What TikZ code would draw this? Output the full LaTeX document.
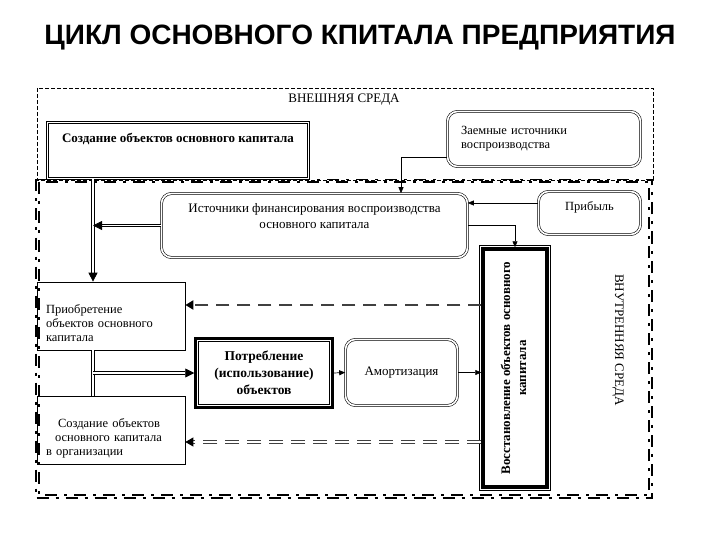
\documentclass[tikz,border=0pt]{standalone}
\usepackage{fontspec}
\setmainfont{Liberation Serif}
\newfontfamily\titlefont{Liberation Sans}
\usetikzlibrary{arrows.meta}

\begin{document}
\begin{tikzpicture}[x=1pt,y=-1pt,
	txt/.style={font=\fontsize{13}{16}\selectfont},
	stxt/.style={font=\fontsize{12.5}{14}\selectfont},
	btxt/.style={font=\fontsize{13}{16}\selectfont\bfseries},
	plainbox/.style={stxt,draw,line width=0.7pt,inner sep=0pt},
	dblbox/.style={txt,draw,double,double distance=1.6pt,line width=0.6pt,inner sep=0pt},
	roundbox/.style={dblbox,rounded corners=10pt},
	thinarrow/.style={line width=0.7pt,-{Triangle[length=6pt,width=5pt]}},
	dblline/.style={double,double distance=1.8pt,line width=0.8pt},
	dblarrow/.style={dblline,-{Triangle[length=9pt,width=9pt]}},
	border/.style={line width=1.1pt,dash pattern=on 12pt off 7pt on 3pt off 7pt},
	backarrow/.style={black!75,line width=2.8pt,dash pattern=on 13pt off 8pt,-{Triangle[length=8pt,width=9pt,black]}},
	backarrowdbl/.style={black!75,double,double distance=1.4pt,line width=1pt,dash pattern=on 14pt off 8pt,-{Triangle[length=8pt,width=9pt,black]}}]
	\useasboundingbox (0,0) rectangle (720,540);
	% title
	\node[font=\titlefont\bfseries\fontsize{28}{30}\selectfont] (title) at (360,38) {ЦИКЛ ОСНОВНОГО КПИТАЛА ПРЕДПРИЯТИЯ};
	% environments
	\draw[line width=0.8pt,dash pattern=on 4pt off 2pt] (37,88) rectangle (653,180);
	\draw[border] (36,179.5) rectangle (652,498);
	\draw[border] (39,182) rectangle (649,495);
	\node[txt] (ext) at (344,100) {ВНЕШНЯЯ СРЕДА};
	\node[txt,rotate=-90] (int) at (618,340) {ВНУТРЕННЯЯ СРЕДА};
	% boxes
	\node[dblbox,btxt,minimum width=261pt,minimum height=56pt,text depth=26pt] (sozd) at (178,150.5) {Создание объектов основного капитала};
	\node[roundbox,stxt,minimum width=193pt,minimum height=55pt,text width=166pt,align=left] (zaem) at (544,139) {Заемные источники\\воспроизводства};
	\node[roundbox,minimum width=306pt,minimum height=64pt,align=center,text depth=19pt] (ist) at (314.5,225.5) {Источники финансирования воспроизводства\\основного капитала};
	\node[roundbox,stxt,minimum width=102pt,minimum height=43pt,text depth=14pt] (prib) at (589.5,213) {Прибыль};
	\node[plainbox,minimum width=148pt,minimum height=68pt,text width=130pt,align=left,text depth=13pt] (priob) at (111,316) {Приобретение\\объектов основного\\капитала};
	\node[plainbox,minimum width=148pt,minimum height=68pt,text width=130pt,align=left,text depth=13pt] (sozdorg) at (111,430) {\hspace*{12pt}Создание объектов\\\hspace*{9pt}основного капитала\\в организации};
	\node[btxt,font=\fontsize{13.5}{17}\selectfont\bfseries,draw,line width=2.5pt,minimum width=137pt,minimum height=69pt,align=center,inner sep=0pt] (potr) at (264,373) {Потребление\\(использование)\\объектов};
	\draw[line width=0.8pt] ([shift={(4.5pt,-4.5pt)}]potr.north west) rectangle ([shift={(-4.5pt,4.5pt)}]potr.south east);
	\node[roundbox,minimum width=112pt,minimum height=66pt] (amort) at (401.5,372.5) {Амортизация};
	\node[btxt,draw,line width=3.5pt,minimum width=64pt,minimum height=238pt,inner sep=0pt] (vosst) at (515,368)
		{\rotatebox{90}{\begin{tabular}{@{}c@{}}Восстановление объектов основного\\капитала\end{tabular}}};
	\draw[line width=0.7pt] ([shift={(-2pt,2pt)}]vosst.north west) rectangle ([shift={(2pt,-2pt)}]vosst.south east);
	% connectors
	\coordinate (trunk) at (93,300);
	\draw[dblarrow] (sozd.south -| trunk) -- (priob.north -| trunk);
	\draw[dblarrow] (ist.west) -- (ist.west -| trunk);
	\draw[dblline] (priob.south -| trunk) -- (sozdorg.north -| trunk);
	\draw[dblarrow] (potr.west -| trunk) -- (potr.west);
	\draw[thinarrow] ([yshift=-18pt]zaem.west) -| ([xshift=86.5pt]ist.north);
	\draw[thinarrow] ([yshift=10pt]prib.west) -- ([yshift=10pt]prib.west -| ist.east);
	\draw[thinarrow] (ist.east) -| (vosst.north);
	\draw[thinarrow] (potr.east) -- (amort.west);
	\draw[thinarrow] (amort.east) -- (amort.east -| vosst.west);
	\draw[backarrow] ([yshift=63pt]vosst.west) -- ([yshift=63pt]vosst.west -| priob.east);
	\draw[backarrowdbl] ([yshift=-74pt]vosst.west) -- ([yshift=-74pt]vosst.west -| sozdorg.east);
\end{tikzpicture}
\end{document}
